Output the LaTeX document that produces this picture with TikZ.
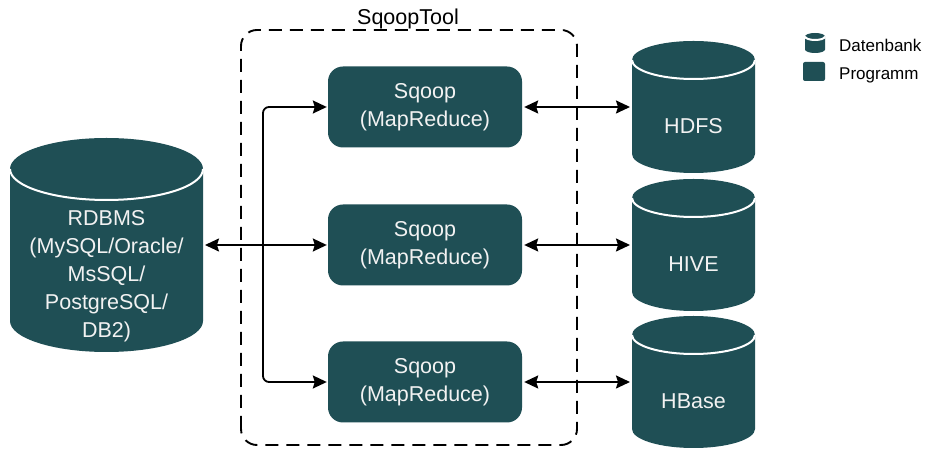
\documentclass[tikz,border=0pt]{standalone}
\usepackage{fontspec}
\setmainfont{Liberation Sans}
\usetikzlibrary{arrows.meta}
\definecolor{dbfill}{HTML}{1F4F55}
\definecolor{lighttext}{HTML}{F2F2F2}
\tikzset{
  progbox/.style={fill=dbfill, rounded corners=15pt, minimum width=194pt, minimum height=81pt, inner sep=0pt, text=lighttext, align=center, font=\fontsize{21.5}{28}\selectfont},
  dbarea/.style={inner sep=0pt, outer sep=0pt},
  dbtext/.style={text=lighttext, align=center, font=\fontsize{21.5}{28}\selectfont},
  conn/.style={line width=1.8pt, {Stealth[length=14pt,width=13pt,inset=2pt]}-{Stealth[length=14pt,width=13pt,inset=2pt]}},
  legtext/.style={anchor=west, font=\fontsize{17}{20}\selectfont, inner sep=0pt},
}
% cx, top, bottom, rx, ry  (pixel coords, y downward)
\newcommand\dbcyl[5]{%
  \fill[dbfill] ({#1-#4},{452-#2-#5}) arc[start angle=180,end angle=0,x radius=#4,y radius=#5]
    -- ({#1+#4},{452-#3+#5}) arc[start angle=0,end angle=-180,x radius=#4,y radius=#5] -- cycle;
  \draw[white,line width=2pt] ({#1-#4},{452-#2-#5}) arc[start angle=180,end angle=360,x radius=#4,y radius=#5];
}
\begin{document}
\begin{tikzpicture}[x=1pt,y=1pt]
\useasboundingbox (0,0) rectangle (926,452);
\fill[white] (0,0) rectangle (926,452);

% dashed container
\draw[line width=1.9pt, dash pattern=on 13pt off 8pt, rounded corners=16pt] (241,7) rectangle (577,422);
\node[anchor=base, font=\fontsize{21.5}{26}\selectfont, inner sep=0pt] (tooltitle) at (408,427) {SqoopTool};

% databases
\dbcyl{106.5}{138}{352}{96.5}{31}
\node[dbarea, minimum width=193pt, minimum height=214pt] (rdbms) at (106.5,207) {};
\node[dbtext] (rdbmstext) at (106.5,176) {RDBMS\\(MySQL/Oracle/\\MsSQL/\\PostgreSQL/\\DB2)};

\dbcyl{693.5}{41}{173}{61.5}{19}
\node[dbarea, minimum width=123pt, minimum height=132pt] (hdfs) at (693.5,345) {};
\node[dbtext] (hdfstext) at (693.5,326) {HDFS};

\dbcyl{693.5}{179}{311}{61.5}{19}
\node[dbarea, minimum width=123pt, minimum height=132pt] (hive) at (693.5,207) {};
\node[dbtext] (hivetext) at (693.5,188) {HIVE};

\dbcyl{693.5}{316}{448}{61.5}{19}
\node[dbarea, minimum width=123pt, minimum height=132pt] (hbase) at (693.5,70) {};
\node[dbtext] (hbasetext) at (693.5,51) {HBase};

% programs
\node[progbox] (sq1) at (425,345) {Sqoop\\(MapReduce)};
\node[progbox] (sq2) at (425,207) {Sqoop\\(MapReduce)};
\node[progbox] (sq3) at (425,70) {Sqoop\\(MapReduce)};

% connectors
\coordinate (vx) at (263,207);
\draw[conn] ([xshift=2pt]rdbms.east) -- ([xshift=-1pt]sq2.west);
\draw[conn, rounded corners=6pt] ([xshift=-1pt]sq1.west) -- (sq1.west -| vx) -- (sq3.west -| vx) -- ([xshift=-1pt]sq3.west);
\draw[conn] ([xshift=2pt]sq1.east) -- ([xshift=-2pt]hdfs.west);
\draw[conn] ([xshift=2pt]sq2.east) -- ([xshift=-2pt]hive.west);
\draw[conn] ([xshift=2pt]sq3.east) -- ([xshift=-2pt]hbase.west);

% legend
\dbcyl{815}{33}{53}{10}{3.5}
\node[dbarea, minimum width=20pt, minimum height=20pt] (legdb) at (815,409) {};
\node[fill=dbfill, rounded corners=2pt, minimum width=22pt, minimum height=19pt, inner sep=0pt] (legprog) at (814,380.5) {};
\node[legtext] (legdbtext) at (839,407) {Datenbank};
\node[legtext] (legprogtext) at (839,377) {Programm};
\end{tikzpicture}
\end{document}
